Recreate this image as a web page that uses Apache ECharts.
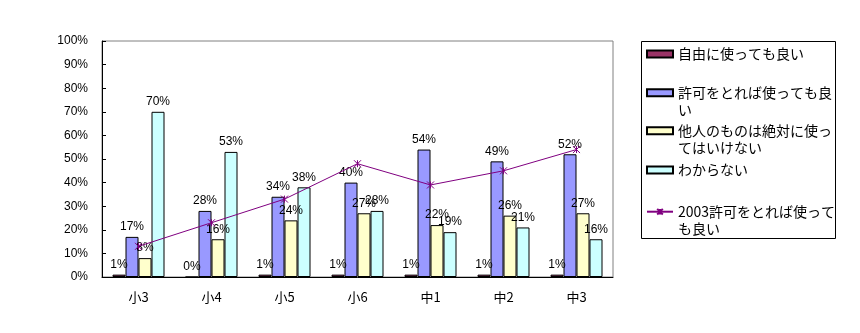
<!DOCTYPE html>
<html>
<head>
<meta charset="utf-8">
<script src="https://cdn.jsdelivr.net/npm/echarts@6/dist/echarts.min.js"></script>
<style>
  html, body { margin: 0; padding: 0; background: #fff; }
  #chart { width: 860px; height: 333px; }
</style>
</head>
<body>
<div id="chart"></div>
<script>
// Grade categories
const categories = ['小3', '小4', '小5', '小6', '中1', '中2', '中3'];

// Survey shares (%) per answer
const freeUse    = [1, 0, 1, 1, 1, 1, 1];
const withPerm   = [17, 28, 34, 40, 54, 49, 52];
const neverOther = [8, 16, 24, 27, 22, 26, 27];
const unknown    = [70, 53, 38, 28, 19, 21, 16];
// 2003 results for "use with permission"
const withPerm2003 = [13, 23, 33, 48, 39, 45, 54];

const names = ['自由に使っても良い', '許可をとれば使っても良い', '他人のものは絶対に使ってはいけない', 'わからない', '2003許可をとれば使っても良い'];
// Legend text lines (wrapped the way the legend box shows them)
const legendLines = [
  ['自由に使っても良い'],
  ['許可をとれば使っても良', 'い'],
  ['他人のものは絶対に使っ', 'てはいけない'],
  ['わからない'],
  ['2003許可をとれば使って', 'も良い']
];
// Icon centre heights of the legend entries
const legendCenters = [54, 92.7, 130.7, 170, 211.7];

const numFont = '"Liberation Sans", Arial, sans-serif';
const jpFont = '"Noto Sans CJK JP", sans-serif';
const LH = 17;

const chart = echarts.init(document.getElementById('chart'), null, { renderer: 'canvas' });

function barSeries(name, data, color) {
  return {
    name: name,
    type: 'bar',
    data: data,
    barWidth: 13,
    barGap: '0%',
    itemStyle: { color: color, borderColor: '#000', borderWidth: 1 },
    label: {
      show: true,
      position: 'top',
      distance: 4,
      formatter: '{c}%',
      color: '#000',
      fontSize: 12,
      fontFamily: numFont
    }
  };
}

const starPath = 'path://M0,0L10,10M10,0L0,10M5,0L5,10';

const legends = legendLines.map(function (lines, i) {
  const twoLine = lines.length > 1;
  const text = twoLine ? ' \n' + lines.join('\n') : lines[0];
  const isLine = i === 4;
  return {
    data: [isLine ? { name: names[i] } : { name: names[i], icon: 'rect' }],
    left: 646,
    top: legendCenters[i] - (twoLine ? LH * 1.5 : LH / 2),
    orient: 'vertical',
    padding: 0,
    itemWidth: 26,
    itemHeight: 7,
    itemGap: 0,
    selectedMode: false,
    formatter: function () { return text; },
    textStyle: { fontSize: 14, lineHeight: LH, color: '#000', fontFamily: jpFont }
  };
});

const option = {
  backgroundColor: '#fff',
  animation: false,
  grid: {
    left: 102, top: 41, right: 247, bottom: 56,
    show: true, borderColor: '#808080', borderWidth: 1, backgroundColor: 'transparent'
  },
  legend: legends,
  xAxis: {
    type: 'category',
    data: categories,
    axisLine: { lineStyle: { color: '#000', width: 1 } },
    axisTick: { inside: true, length: 4, lineStyle: { color: '#000' } },
    axisLabel: { color: '#000', fontSize: 13, fontFamily: jpFont, margin: 14 },
    splitLine: { show: false }
  },
  yAxis: {
    type: 'value',
    min: 0, max: 100, interval: 10,
    axisLine: { show: true, lineStyle: { color: '#000', width: 1 } },
    axisTick: { show: true, inside: true, length: 4, lineStyle: { color: '#000' } },
    axisLabel: { color: '#000', fontSize: 12, fontFamily: numFont, margin: 14, formatter: '{value}%' },
    splitLine: { show: false }
  },
  graphic: [{
    type: 'rect',
    shape: { x: 641.5, y: 41.5, width: 194, height: 197 },
    style: { fill: 'none', stroke: '#000', lineWidth: 1 },
    silent: true,
    z: 0
  }],
  series: [
    barSeries(names[0], freeUse, '#993366'),
    barSeries(names[1], withPerm, '#9999FF'),
    barSeries(names[2], neverOther, '#FFFFCC'),
    barSeries(names[3], unknown, '#CCFFFF'),
    {
      name: names[4],
      type: 'line',
      data: withPerm2003,
      symbol: starPath,
      symbolSize: 7,
      showSymbol: true,
      z: 5,
      lineStyle: { color: '#800080', width: 1 },
      itemStyle: { color: '#800080', borderColor: '#800080', borderWidth: 1 },
      label: { show: false }
    }
  ]
};

chart.setOption(option);
</script>
</body>
</html>
